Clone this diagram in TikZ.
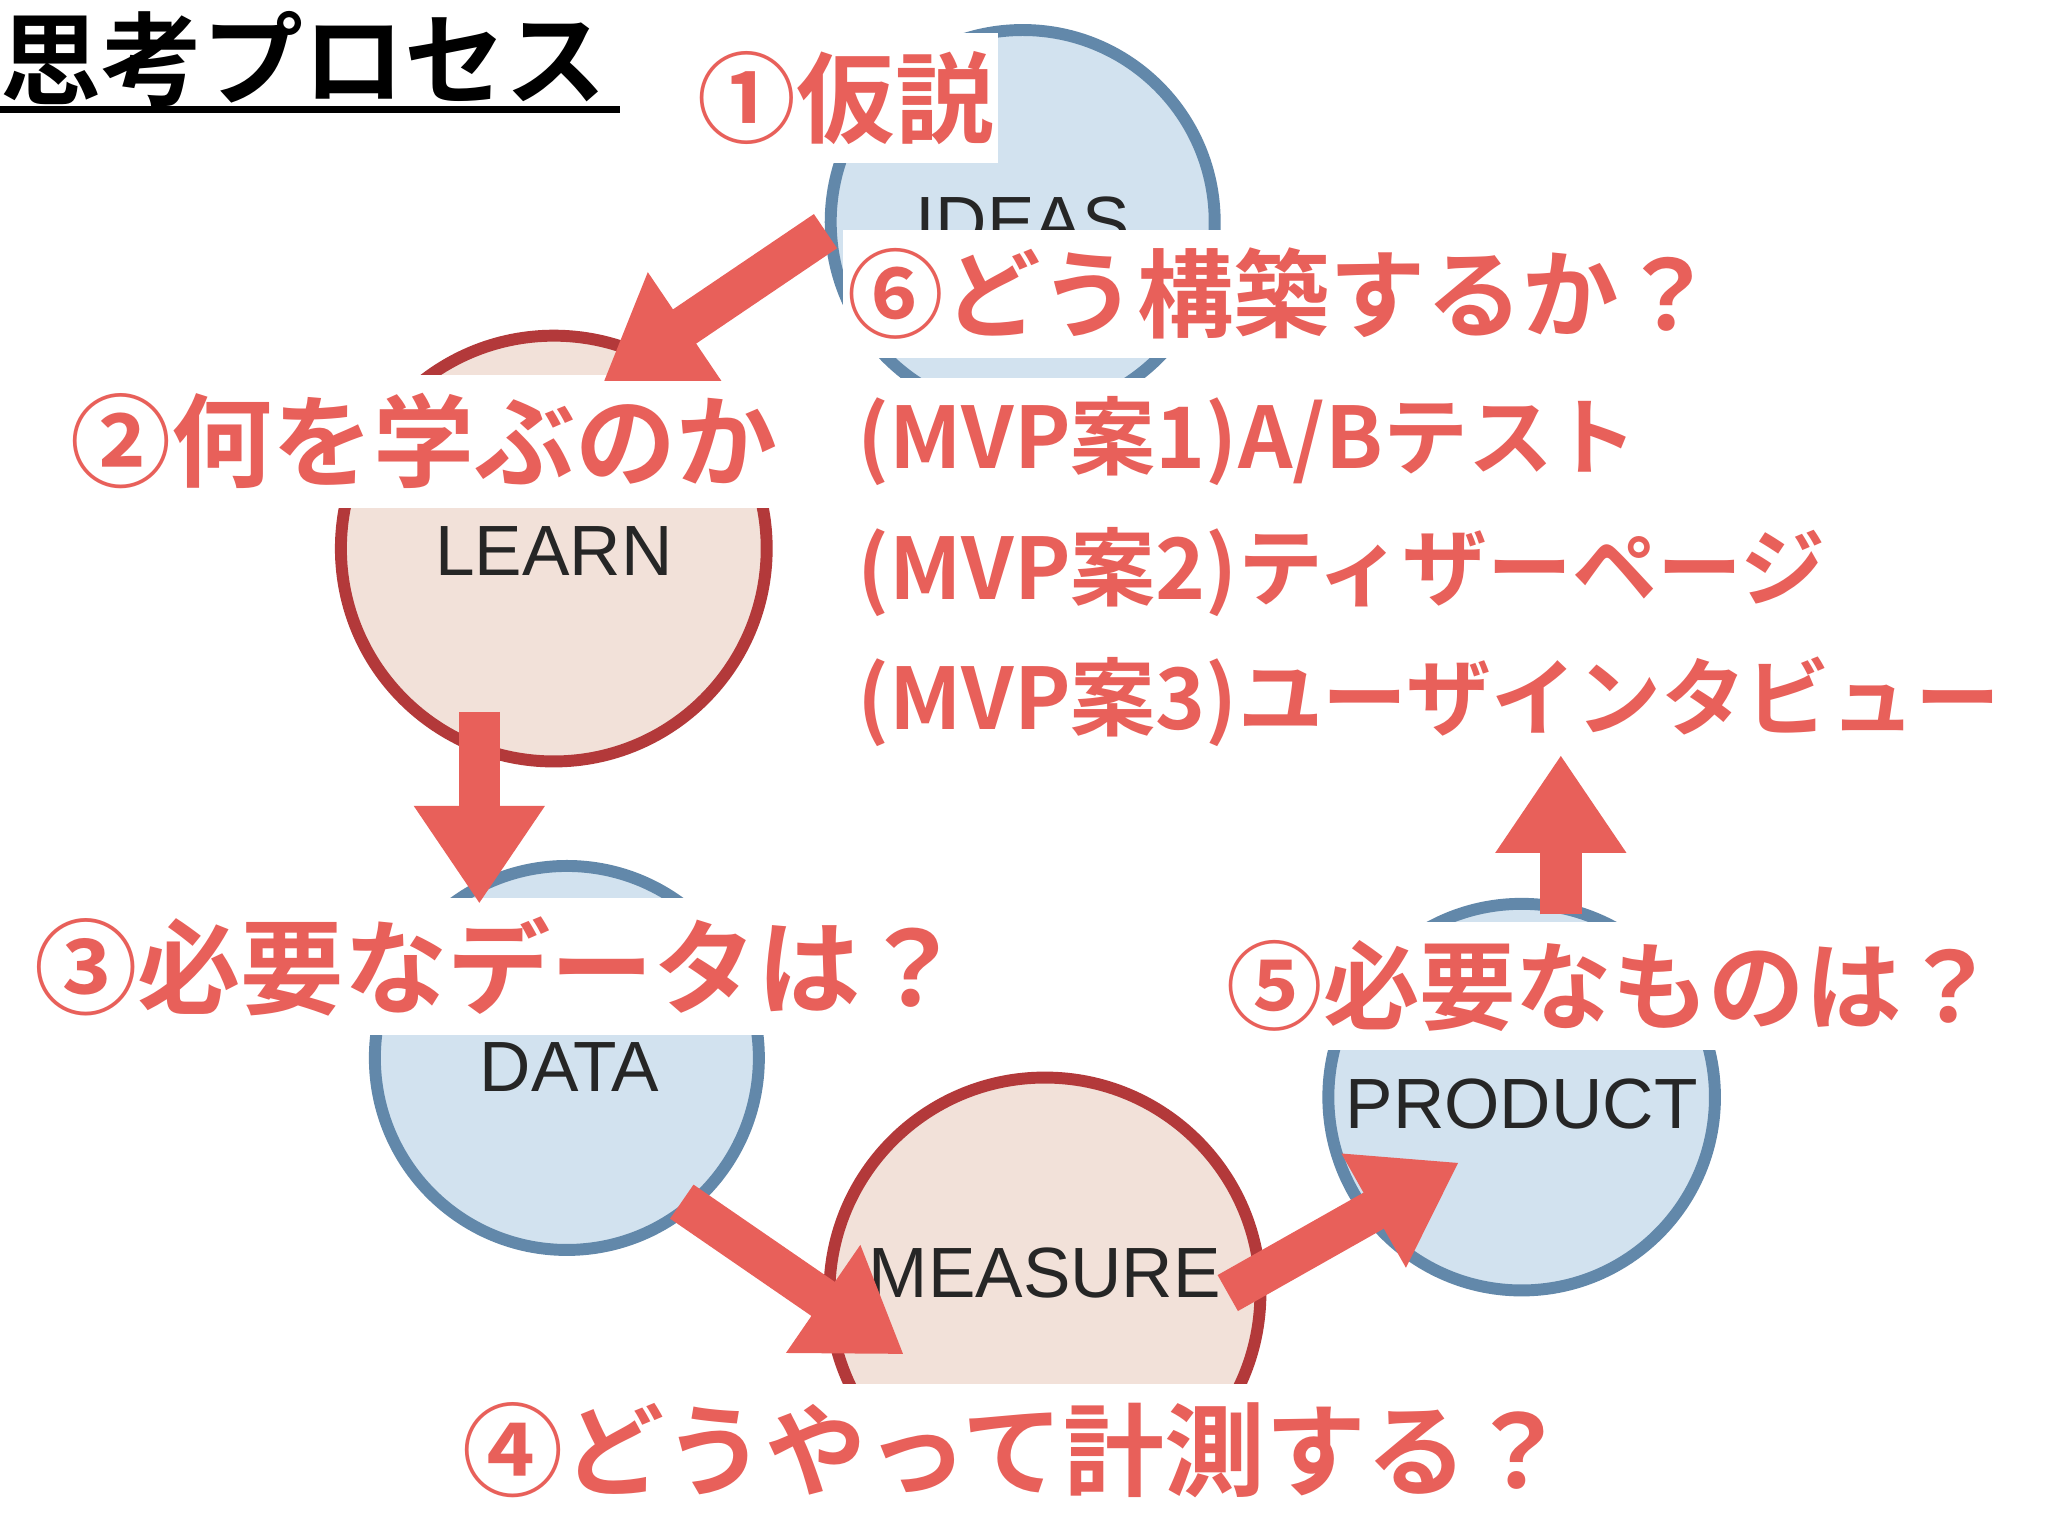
\documentclass[tikz,border=0pt]{standalone}
\usepackage{fontspec}
\setmainfont{Liberation Sans}
\newfontfamily\jp{Noto Sans CJK JP Bold}
\usetikzlibrary{arrows.meta}
\definecolor{lred}{HTML}{E8605A}
\definecolor{bfill}{HTML}{D2E2EF}
\definecolor{bline}{HTML}{6288AA}
\definecolor{rfill}{HTML}{F2E1D9}
\definecolor{rline}{HTML}{B3393A}
\tikzset{
 bc/.style={circle,draw=bline,fill=bfill,line width=2.6pt,inner sep=0},
 rc/.style={circle,draw=rline,fill=rfill,line width=2.6pt,inner sep=0},
 ct/.style={font=\fontsize{15.5}{15.5}\selectfont,text=black!85},
 lab/.style={anchor=west,fill=white,text=lred,inner xsep=1pt,inner ysep=4pt,font=\jp\fontsize{22}{22}\selectfont},
 arr/.style={draw=lred,line width=9pt,-{Triangle[length=0.75cm,width=0.95cm]}}
}
\begin{document}
\begin{tikzpicture}
\useasboundingbox (0,0) rectangle (15.68,-11.76);
\fill[white] (0,0) rectangle (15.68,-11.76);
\node[bc,minimum size=2.94cm] (ideas) at (7.83,-1.70) {};
\node[rc,minimum size=3.26cm] (learn) at (4.24,-4.20) {};
\node[bc,minimum size=2.94cm] (data) at (4.34,-8.10) {};
\node[rc,minimum size=3.30cm] (measure) at (8.00,-9.90) {};
\node[bc,minimum size=2.96cm] (product) at (11.65,-8.40) {};
\node[ct] (ti) at (7.83,-1.70) {IDEAS};
\node[ct] (tl) at (4.24,-4.22) {LEARN};
\node[ct] (td) at (4.36,-8.17) {DATA};
\node[ct] (tm) at (8.00,-9.75) {MEASURE};
\node[ct] (tp) at (11.65,-8.45) {PRODUCT};
\node[anchor=west,inner sep=0,font=\jp\fontsize{22}{22}\selectfont] (title) at (0,-0.45) {思考プロセス};
\draw[line width=1.5pt] (0,-0.84) -- (4.75,-0.84);
\node[lab,font=\jp\fontsize{21.5}{21.5}\selectfont] (l1) at (5.30,-0.75) {①仮説};
\node[lab,font=\jp\fontsize{21}{21}\selectfont] (l6) at (6.45,-2.25) {⑥どう構築するか？};
\node[lab] (l2) at (0.50,-3.38) {②何を学ぶのか};
\node[lab,font=\jp\fontsize{18.5}{18.5}\selectfont] (m1) at (6.52,-3.38) {(MVP案1)A/Bテスト};
\node[lab,font=\jp\fontsize{18.5}{18.5}\selectfont] (m2) at (6.52,-4.38) {(MVP案2)ティザーページ};
\node[lab,font=\jp\fontsize{18.5}{18.5}\selectfont] (m3) at (6.52,-5.37) {(MVP案3)ユーザインタビュー};
\node[lab,font=\jp\fontsize{22.5}{22.5}\selectfont] (l3) at (0.22,-7.40) {③必要なデータは？};
\node[lab,font=\jp\fontsize{21}{21}\selectfont] (l5) at (9.35,-7.55) {⑤必要なものは？};
\node[lab] (l4) at (3.50,-11.10) {④どうやって計測する？};
\coordinate (a1s) at (6.32,-1.77); \coordinate (a1e) at (4.62,-2.92);
\coordinate (a2s) at (3.67,-5.45); \coordinate (a2e) at (3.67,-6.92);
\coordinate (a3s) at (5.22,-9.20); \coordinate (a3e) at (6.92,-10.37);
\coordinate (a4s) at (9.40,-9.90); \coordinate (a4e) at (11.17,-8.90);
\coordinate (a5s) at (11.95,-7.00); \coordinate (a5e) at (11.95,-5.78);
\draw[arr] (a1s) -- (a1e);
\draw[arr] (a2s) -- (a2e);
\draw[arr] (a3s) -- (a3e);
\draw[arr] (a4s) -- (a4e);
\draw[arr] (a5s) -- (a5e);
\end{tikzpicture}
\end{document}
